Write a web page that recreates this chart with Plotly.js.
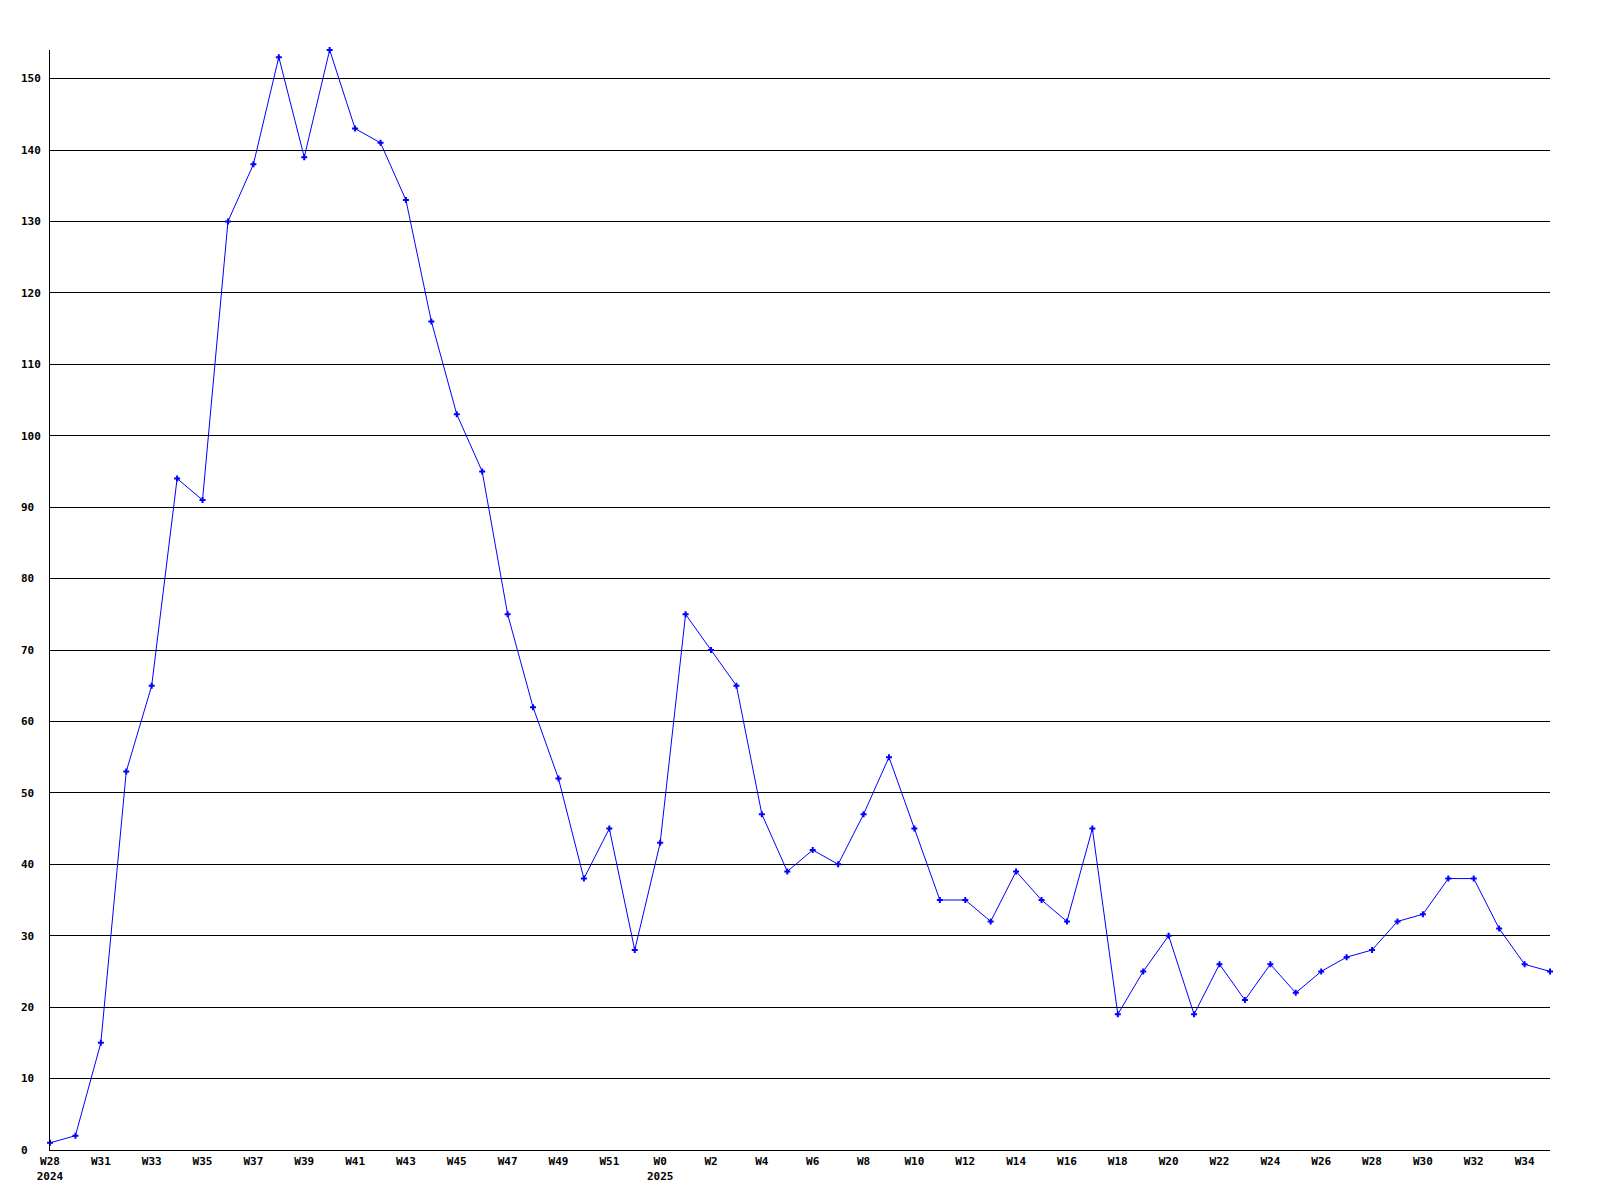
<!DOCTYPE html>
<html>
<head>
<meta charset="utf-8">
<script src="https://cdn.plot.ly/plotly-3.0.1.min.js"></script>
<style>
  html, body { margin: 0; padding: 0; background: #ffffff; }
  #chart { width: 1600px; height: 1200px; }
</style>
</head>
<body>
<div id="chart"></div>
<script>
// Weekly values, one per week, from W28 2024 to W35 2025
var values = [1, 2, 15, 53, 65, 94, 91, 130, 138, 153,
              139, 154, 143, 141, 133, 116, 103, 95, 75, 62,
              52, 38, 45, 28, 43, 75, 70, 65, 47, 39,
              42, 40, 47, 55, 45, 35, 35, 32, 39, 35,
              32, 45, 19, 25, 30, 19, 26, 21, 26, 22,
              25, 27, 28, 32, 33, 38, 38, 31, 26, 25];

// x tick positions (week index) and their labels
var xTickIdx = [0, 2, 4, 6, 8, 10, 12, 14, 16, 18, 20, 22, 24, 26, 28,
                30, 32, 34, 36, 38, 40, 42, 44, 46, 48, 50, 52, 54, 56, 58];
var xTickLabels = ["W28<br>2024", "W31", "W33", "W35", "W37", "W39", "W41", "W43",
                   "W45", "W47", "W49", "W51", "W0<br>2025", "W2", "W4", "W6", "W8",
                   "W10", "W12", "W14", "W16", "W18", "W20", "W22", "W24", "W26",
                   "W28", "W30", "W32", "W34"];

var yTickVals = [0, 10, 20, 30, 40, 50, 60, 70, 80, 90, 100, 110, 120, 130, 140, 150];
var yTickLabels = ["0", "10", "20", "30", "40", "50", "60", "70", "80", "90",
                   "100", "110", "120", "130", "140", "150"];

var xIdx = values.map(function (v, i) { return i; });
var NB = "\u00a0";
var yTickPadded = yTickLabels.map(function (t) {
  var s = t;
  while (s.length < 3) s += NB;
  return s;
});

var tickFont = { family: "DejaVu Sans Mono, monospace", size: 11, color: "#000000", weight: "bold" };

var trace = {
  x: xIdx,
  y: values,
  type: "scatter",
  mode: "lines+markers",
  cliponaxis: false,
  line: { color: "#0000ff", width: 1 },
  marker: { color: "#0000ff", symbol: "cross", size: 5, line: { width: 0 } },
  hoverinfo: "y"
};

var layout = {
  width: 1600,
  height: 1200,
  paper_bgcolor: "#ffffff",
  plot_bgcolor: "#ffffff",
  showlegend: false,
  margin: { l: 50, r: 50, t: 50, b: 50, pad: 0 },
  xaxis: {
    range: [0, values.length - 1],
    tickmode: "array",
    tickvals: xTickIdx,
    ticktext: xTickLabels,
    tickangle: 0,
    showgrid: false,
    zeroline: false,
    showline: true,
    linecolor: "#000000",
    linewidth: 1,
    ticks: "",
    ticklabelstandoff: 1,
    tickfont: tickFont,
    fixedrange: true
  },
  yaxis: {
    range: [0, 154],
    tickmode: "array",
    tickvals: yTickVals,
    ticktext: yTickPadded,
    showgrid: true,
    gridcolor: "#000000",
    gridwidth: 1,
    zeroline: false,
    showline: true,
    linecolor: "#000000",
    linewidth: 1,
    ticks: "",
    ticklabelstandoff: 6,
    tickfont: tickFont,
    fixedrange: true
  }
};

Plotly.newPlot("chart", [trace], layout, { displayModeBar: false, staticPlot: true });
</script>
</body>
</html>
